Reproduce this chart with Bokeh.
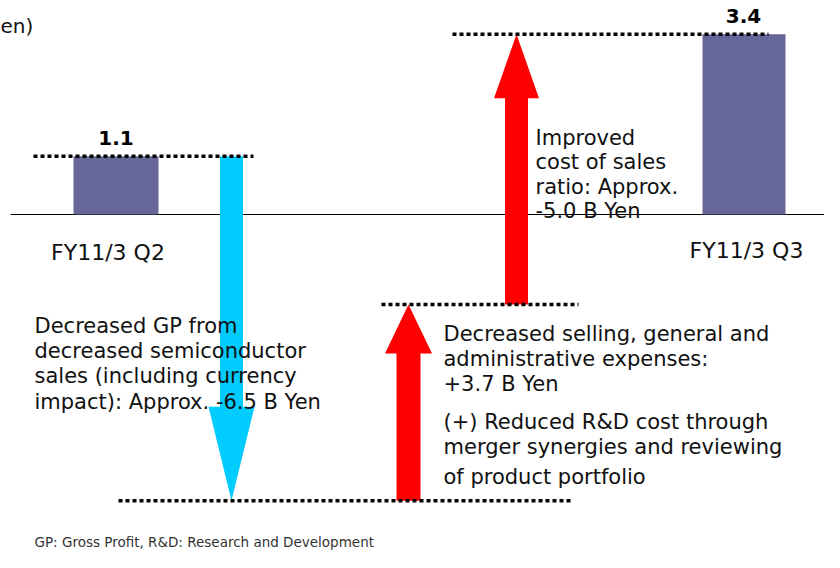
from bokeh.plotting import figure
from bokeh.models import Range1d
from bokeh.core.properties import value
from bokeh.embed import file_html
from bokeh.resources import INLINE

# ---------------- data ----------------
categories = ["FY11/3 Q2", "FY11/3 Q3"]
bar_values = [1.1, 3.4]
bar_labels = ["1.1", "3.4"]
step_values = [-6.5, 3.7, 5.0]
unit_label = "en)"
step_texts = [
    ["Decreased GP from", "decreased semiconductor",
     "sales (including currency", "impact): Approx. -6.5 B Yen"],
    ["Decreased selling, general and", "administrative expenses:",
     "+3.7 B Yen"],
    ["Improved", "cost of sales", "ratio: Approx.", "-5.0 B Yen"],
]
note_texts = ["(+) Reduced R&D cost through", "merger synergies and reviewing",
              "of product portfolio"]
footnote = "GP: Gross Profit, R&D: Research and Development"

# ---------------- layout / style ----------------
W, H = 824, 552
PX = 53.0          # pixels per billion yen
ZERO = 214         # baseline, px from top of canvas
FONT = value("DejaVu Sans")

def vy(py):
    """value coordinate of a canvas pixel row"""
    return (ZERO - py) / PX

p = figure(width=W, height=H, output_backend="svg", toolbar_location=None,
           x_range=Range1d(0, W),
           y_range=Range1d(-(H - ZERO) / PX, ZERO / PX),
           min_border=0, x_axis_type=None, y_axis_type=None)
p.grid.visible = False
p.outline_line_color = None
p.background_fill_color = "white"
p.border_fill_color = "white"

# baseline
p.segment(x0=[10], y0=[0], x1=[W], y1=[0], line_color="black", line_width=1)

# bars
bar_left = [73, 702]
bar_right = [158, 785]
p.quad(left=bar_left, right=bar_right, bottom=[0, 0], top=bar_values,
       fill_color="#666699", line_color=None)

# cumulative levels
levels = [bar_values[0]]
for s in step_values:
    levels.append(round(levels[-1] + s, 2))
levels[-1] = bar_values[-1]

def arrow(xc, v0, v1, shaft, head, head_len_px):
    d = 1 if v1 > v0 else -1
    base = v1 - d * head_len_px / PX
    xs = [xc - shaft / 2, xc - shaft / 2, xc - head / 2, xc,
          xc + head / 2, xc + shaft / 2, xc + shaft / 2]
    ys = [v0, base, base, v1, base, base, v0]
    return xs, ys

arrow_x = [231, 408, 516]
arrow_shaft = [23, 24, 23]
arrow_head = [46, 47, 45]
arrow_hlen = [94, 49, 64]
arrow_col = ["#00CCFF", "#FF0000", "#FF0000"]
axs, ays = [], []
for i in range(3):
    xs, ys = arrow(arrow_x[i], levels[i], levels[i + 1],
                   arrow_shaft[i], arrow_head[i], arrow_hlen[i])
    axs.append(xs)
    ays.append(ys)
p.patches(xs=axs, ys=ays, fill_color=arrow_col, line_color=None)

# dotted level lines
dot_x0 = [33, 118, 381, 452]
dot_x1 = [253, 571, 578, 768]
p.segment(x0=dot_x0, x1=dot_x1, y0=levels, y1=levels,
          line_color="black", line_width=3.5, line_dash="4 3")

# value labels above bars
p.text(x=[115.5, 743], y=[v + 18 / PX for v in bar_values], text=bar_labels,
       text_font=FONT, text_font_size="20px", text_font_style="bold",
       text_align="center", text_baseline="middle", text_color="black")

# category labels
p.text(x=[107.5, 746], y=[vy(252), vy(250)], text=categories,
       text_font=FONT, text_font_size="22px",
       text_align="center", text_baseline="middle", text_color="#111111")

# unit label
p.text(x=[0], y=[vy(25)], text=[unit_label], text_font=FONT,
       text_font_size="20px", text_align="left", text_baseline="middle",
       text_color="#111111")

def block(x, ys, lines, size="21px", color="#111111"):
    p.text(x=[x] * len(lines), y=[vy(y) for y in ys], text=lines,
           text_font=FONT, text_font_size=size, text_align="left",
           text_baseline="middle", text_color=color)

block(34, [325, 350, 375, 401], step_texts[0])
block(443, [333, 358, 383], step_texts[1])
block(535, [137, 161, 186, 210], step_texts[2])
block(443, [421, 446, 476], note_texts)
block(34, [541], [footnote], size="13.5px", color="#333333")

open("out.html", "w").write(file_html(p, INLINE))
